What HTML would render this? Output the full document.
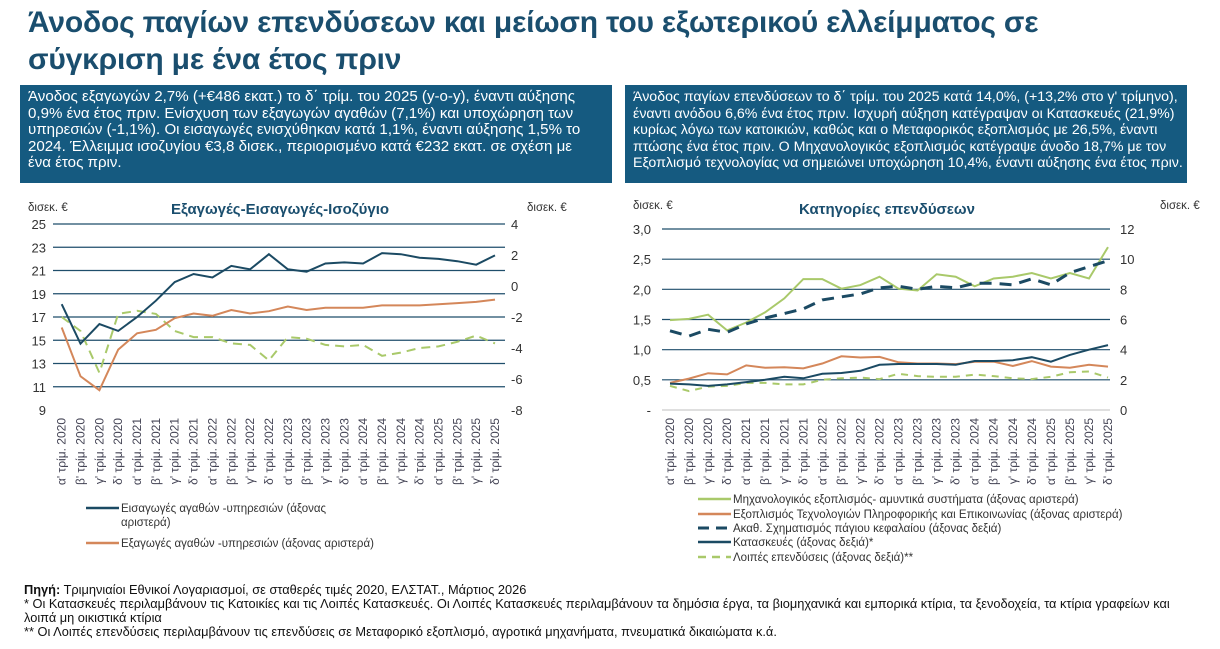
<!DOCTYPE html>
<html><head><meta charset="utf-8"><style>
body{margin:0;width:1220px;height:649px;background:#fff;font-family:"Liberation Sans","DejaVu Sans",sans-serif;position:relative;overflow:hidden}
.t{position:absolute;left:28px;top:4px;font-size:30px;font-weight:bold;color:#1a4e6e;line-height:37px;letter-spacing:-0.2px}
.box{position:absolute;top:85px;height:98px;background:#155a80;color:#fff;font-size:15.1px;line-height:16.6px;padding:4px 8px;box-sizing:border-box;white-space:nowrap;overflow:hidden}
.notes{position:absolute;left:24px;top:583px;font-size:12.8px;line-height:14px;color:#111;width:1190px;white-space:nowrap}
svg{position:absolute;left:0;top:0}
</style></head><body>
<div class="t">Άνοδος παγίων επενδύσεων και μείωση του εξωτερικού ελλείμματος σε<br>σύγκριση με ένα έτος πριν</div>
<div class="box" style="left:20px;width:592px">Άνοδος εξαγωγών 2,7% (+€486 εκατ.) το δ΄ τρίμ. του 2025 (y-o-y), έναντι αύξησης<br>0,9% ένα έτος πριν. Ενίσχυση των εξαγωγών αγαθών (7,1%) και υποχώρηση των<br>υπηρεσιών (-1,1%). Οι εισαγωγές ενισχύθηκαν κατά 1,1%, έναντι αύξησης 1,5% το<br>2024. Έλλειμμα ισοζυγίου €3,8 δισεκ., περιορισμένο κατά €232 εκατ. σε σχέση με<br>ένα έτος πριν.</div>
<div class="box" style="left:625px;width:562px;font-size:14.2px">Άνοδος παγίων επενδύσεων το δ΄ τρίμ. του 2025 κατά 14,0%, (+13,2% στο γ' τρίμηνο),<br>έναντι ανόδου 6,6% ένα έτος πριν. Ισχυρή αύξηση κατέγραψαν οι Κατασκευές (21,9%)<br>κυρίως λόγω των κατοικιών, καθώς και ο Μεταφορικός εξοπλισμός με 26,5%, έναντι<br>πτώσης ένα έτος πριν. Ο Μηχανολογικός εξοπλισμός κατέγραψε άνοδο 18,7% με τον<br>Εξοπλισμό τεχνολογίας να σημειώνει υποχώρηση 10,4%, έναντι αύξησης ένα έτος πριν.</div>
<svg id="s" width="1220" height="649"></svg>
<div class="notes"><b>Πηγή:</b> Τριμηνιαίοι Εθνικοί Λογαριασμοί, σε σταθερές τιμές 2020, ΕΛΣΤΑΤ., Μάρτιος 2026<br>* Οι Κατασκευές περιλαμβάνουν τις Κατοικίες και τις Λοιπές Κατασκευές. Οι Λοιπές Κατασκευές περιλαμβάνουν τα δημόσια έργα, τα βιομηχανικά και εμπορικά κτίρια, τα ξενοδοχεία, τα κτίρια γραφείων και<br>λοιπά μη οικιστικά κτίρια<br>** Οι Λοιπές επενδύσεις περιλαμβάνουν τις επενδύσεις σε Μεταφορικό εξοπλισμό, αγροτικά μηχανήματα, πνευματικά δικαιώματα κ.ά.</div>
<script>
const quarters=["α' τρίμ. 2020","β' τρίμ. 2020","γ' τρίμ. 2020","δ' τρίμ. 2020","α' τρίμ. 2021","β' τρίμ. 2021","γ' τρίμ. 2021","δ' τρίμ. 2021","α' τρίμ. 2022","β' τρίμ. 2022","γ' τρίμ. 2022","δ' τρίμ. 2022","α' τρίμ. 2023","β' τρίμ. 2023","γ' τρίμ. 2023","δ' τρίμ. 2023","α' τρίμ. 2024","β' τρίμ. 2024","γ' τρίμ. 2024","δ' τρίμ. 2024","α' τρίμ. 2025","β' τρίμ. 2025","γ' τρίμ. 2025","δ' τρίμ. 2025"];
const imports=[18.1,14.7,16.4,15.8,17.0,18.4,20.0,20.7,20.4,21.4,21.1,22.4,21.1,20.9,21.6,21.7,21.6,22.5,22.4,22.1,22.0,21.8,21.5,22.3];
const exportsV=[16.1,11.9,10.7,14.2,15.6,15.9,16.9,17.3,17.1,17.6,17.3,17.5,17.9,17.6,17.8,17.8,17.8,18.0,18.0,18.0,18.1,18.2,18.3,18.5];
const balance=[-2.0,-2.9,-5.6,-1.8,-1.6,-1.8,-2.9,-3.3,-3.3,-3.7,-3.8,-4.8,-3.3,-3.4,-3.8,-3.9,-3.8,-4.5,-4.3,-4.0,-3.9,-3.6,-3.2,-3.7];
const leftTicksA=["25","23","21","19","17","15","13","11","9"];
const rightTicksA=["4","2","0","-2","-4","-6","-8"];
const machinery=[1.49,1.51,1.58,1.32,1.45,1.62,1.85,2.17,2.17,2.01,2.07,2.21,2.01,1.98,2.25,2.21,2.05,2.18,2.21,2.27,2.18,2.27,2.18,2.70];
const ict=[0.45,0.52,0.61,0.59,0.74,0.70,0.71,0.69,0.77,0.89,0.87,0.88,0.79,0.77,0.77,0.76,0.80,0.80,0.73,0.81,0.72,0.70,0.75,0.72];
const gfcf=[5.25,4.9,5.35,5.15,5.7,6.1,6.4,6.7,7.3,7.5,7.7,8.1,8.2,8.0,8.2,8.1,8.4,8.4,8.3,8.7,8.3,9.1,9.5,9.9];
const construction=[1.75,1.7,1.6,1.7,1.85,2.0,2.2,2.1,2.4,2.45,2.6,3.0,3.05,3.05,3.05,3.0,3.25,3.25,3.3,3.5,3.2,3.65,4.0,4.3];
const otherInv=[1.6,1.25,1.55,1.6,1.8,1.8,1.7,1.7,2.0,2.1,2.15,2.05,2.4,2.25,2.2,2.2,2.35,2.25,2.1,2.05,2.2,2.5,2.55,2.15];
const leftTicksB=["3,0","2,5","2,0","1,5","1,0","0,5","-"];
const rightTicksB=["12","10","8","6","4","2","0"];
const NS="http://www.w3.org/2000/svg",S=document.getElementById('s');
function mk(t,a,txt){const e=document.createElementNS(NS,t);for(const k in a)e.setAttribute(k,a[k]);if(txt!=null)e.textContent=txt;S.appendChild(e);return e;}
function chart(o){
 const x=i=>o.x0+(o.x1-o.x0)*i/(quarters.length-1);
 const yL=v=>o.yTop+(o.lmax-v)/(o.lmax-o.lmin)*(o.yBot-o.yTop);
 const yR=v=>o.yTop+(o.rmax-v)/(o.rmax-o.rmin)*(o.yBot-o.yTop);
 o.lt.forEach((t,i)=>{const y=o.yTop+i*(o.yBot-o.yTop)/(o.lt.length-1);
  if(i<o.lt.length-1||o.lastGrid){let g=mk('line',{x1:o.g0,x2:o.g1,y1:y,y2:y,stroke:i==o.lt.length-1?'#ccc':'#1f4e6b','stroke-width':1.2});}
  let e=mk('text',{x:o.lx,y:y+5,'font-size':13,fill:'#333','text-anchor':'end'},t);});
 o.rt.forEach((t,i)=>{const y=o.yTop+i*(o.yBot-o.yTop)/(o.rt.length-1);
  let e=mk('text',{x:o.rx,y:y+5,'font-size':13,fill:'#333'},t);});
 quarters.forEach((q,i)=>{let e=mk('text',{transform:`translate(${x(i)+4},${o.yBot+8}) rotate(-90)`,'font-size':12,fill:'#445','text-anchor':'end'},q);});
 o.series.forEach(s=>{const f=s.axis=='L'?yL:yR;
  const p=mk('path',{d:s.v.map((v,i)=>(i?'L':'M')+x(i).toFixed(1)+','+f(v).toFixed(1)).join(''),fill:'none',stroke:s.c,'stroke-width':s.w||2,'stroke-dasharray':s.d||'none'});
  });
}
chart({x0:61.7,x1:495,g0:53,g1:505,yTop:224,yBot:410,lmax:25,lmin:9,rmax:4,rmin:-8,lt:leftTicksA,rt:rightTicksA,lx:46,rx:511,lastGrid:false,
 series:[{v:balance,axis:'R',c:'#a9c96a',d:'9,6',n:'balance-line'},{v:exportsV,axis:'L',c:'#d4875a',n:'exports-line'},{v:imports,axis:'L',c:'#1b4a63',n:'imports-line'}]});
chart({x0:670,x1:1108,g0:662,g1:1110,yTop:229,yBot:410,lmax:3,lmin:0,rmax:12,rmin:0,lt:leftTicksB,rt:rightTicksB,lx:651,rx:1120,lastGrid:true,
 series:[{v:otherInv,axis:'R',c:'#a9c96a',d:'7,6',n:'other-investment-line'},{v:ict,axis:'L',c:'#d4875a',n:'ict-equipment-line'},{v:construction,axis:'R',c:'#1b4a63',n:'construction-line'},{v:machinery,axis:'L',c:'#a9c96a',n:'machinery-line'},{v:gfcf,axis:'R',c:'#1b4a63',w:3,d:'12,8',n:'gfcf-line'}]});
function txt(x,y,s,t,a,n){let e=mk('text',Object.assign({x:x,y:y},a),t);}
txt(28,211,12,'δισεκ. €',{'font-size':11.5,fill:'#333'},'left-axis-unit');
txt(527,211,12,'δισεκ. €',{'font-size':11.5,fill:'#333'},'right-axis-unit');
txt(280,214,12,'Εξαγωγές-Εισαγωγές-Ισοζύγιο',{'font-size':15,'font-weight':'bold',fill:'#1a4e6e','text-anchor':'middle'},'chart-title-trade');
txt(633,209,12,'δισεκ. €',{'font-size':11.5,fill:'#333'},'left-axis-unit-inv');
txt(1160,209,12,'δισεκ. €',{'font-size':11.5,fill:'#333'},'right-axis-unit-inv');
txt(887,214,12,'Κατηγορίες επενδύσεων',{'font-size':15,'font-weight':'bold',fill:'#1a4e6e','text-anchor':'middle'},'chart-title-investment');
function leg(x,y,c,d,w,t,n){let l=mk('line',{x1:x,x2:x+33,y1:y,y2:y,stroke:c,'stroke-width':w,'stroke-dasharray':d});
 txt(x+35,y+4,0,t,{'font-size':11.5,fill:'#333'},n);}
leg(86,508,'#1b4a63','none',2.5,'Εισαγωγές αγαθών -υπηρεσιών (άξονας','legend-imports');
txt(121,526,0,'αριστερά)',{'font-size':11.5,fill:'#333'},'legend-imports-cont');
leg(86,543,'#d4875a','none',2.5,'Εξαγωγές αγαθών -υπηρεσιών (άξονας αριστερά)','legend-exports');
leg(698,499,'#a9c96a','none',2.5,'Μηχανολογικός εξοπλισμός- αμυντικά συστήματα (άξονας αριστερά)','legend-machinery');
leg(698,514,'#d4875a','none',2.5,'Εξοπλισμός Τεχνολογιών Πληροφορικής και Επικοινωνίας (άξονας αριστερά)','legend-ict');
leg(698,528,'#1b4a63','11,7',3,'Ακαθ. Σχηματισμός πάγιου κεφαλαίου (άξονας δεξιά)','legend-gfcf');
leg(698,542,'#1b4a63','none',2.5,'Κατασκευές (άξονας δεξιά)*','legend-construction');
leg(698,557,'#a9c96a','8,6',2.5,'Λοιπές επενδύσεις (άξονας δεξιά)**','legend-other');
</script>
</body></html>
